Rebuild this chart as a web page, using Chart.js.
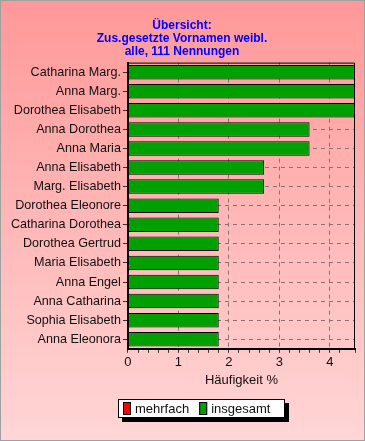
<!DOCTYPE html>
<html>
<head>
<meta charset="utf-8">
<script src="https://cdn.jsdelivr.net/npm/chart.js@4.4.8/dist/chart.umd.min.js"></script>
<style>
  html, body { margin: 0; padding: 0; background: #fff; }
  #wrap { width: 365px; height: 441px; }
</style>
</head>
<body>
<div id="wrap"><canvas id="myChart" width="365" height="441"></canvas></div>
<script>
  // Daten
  const names = ['Catharina Marg.', 'Anna Marg.', 'Dorothea Elisabeth', 'Anna Dorothea', 'Anna Maria',
    'Anna Elisabeth', 'Marg. Elisabeth', 'Dorothea Eleonore', 'Catharina Dorothea', 'Dorothea Gertrud',
    'Maria Elisabeth', 'Anna Engel', 'Anna Catharina', 'Sophia Elisabeth', 'Anna Eleonora'];
  const mehrfach = [0, 0, 0, 0, 0, 0, 0, 0, 0, 0, 0, 0, 0, 0, 0];
  const insgesamt = [4.5, 4.5, 4.5, 3.6, 3.6, 2.7, 2.7, 1.8, 1.8, 1.8, 1.8, 1.8, 1.8, 1.8, 1.8];
  const titleLines = ['Übersicht:', 'Zus.gesetzte Vornamen weibl.', 'alle, 111 Nennungen'];
  const xTitle = 'Häufigkeit %';

  const font = 'Liberation Sans, Arial, sans-serif';

  // Hintergrund mit Verlauf
  const bgPlugin = {
    id: 'bg',
    beforeDraw(chart) {
      const c = chart.ctx;
      const g = c.createLinearGradient(0, 0, 0, chart.height);
      g.addColorStop(0, '#ff9898');
      g.addColorStop(1, '#ffd6d6');
      c.save();
      c.fillStyle = g;
      c.fillRect(0, 0, chart.width, chart.height);
      c.strokeStyle = '#a0a0a0';
      c.lineWidth = 1;
      c.strokeRect(0.5, 0.5, chart.width - 1, chart.height - 1);
      c.restore();
    },
    afterDatasetsDraw(chart) {
      // duenner Rahmen oben/rechts
      const a = chart.chartArea;
      const c = chart.ctx;
      c.save();
      c.strokeStyle = '#000';
      c.lineWidth = 1;
      c.beginPath();
      c.moveTo(a.left, a.top + 0.5);
      c.lineTo(a.right - 0.5, a.top + 0.5);
      c.lineTo(a.right - 0.5, a.bottom);
      c.stroke();
      c.restore();
    }
  };

  // Legende im Kasten mit Schatten
  const legendPlugin = {
    id: 'boxLegend',
    afterDraw(chart) {
      const c = chart.ctx;
      const x = 118, y = 399, w = 167, h = 19;
      c.save();
      c.fillStyle = '#000';
      c.fillRect(x + 4, y + 4, w, h);
      c.fillStyle = '#fff';
      c.fillRect(x, y, w, h);
      c.strokeStyle = '#000';
      c.lineWidth = 1;
      c.strokeRect(x + 0.5, y + 0.5, w - 1, h - 1);
      let px = x + 5;
      c.font = '13px ' + font;
      c.textBaseline = 'middle';
      chart.data.datasets.forEach(ds => {
        c.fillStyle = ds.backgroundColor;
        c.fillRect(px, y + 3, 8, 13);
        c.strokeStyle = '#000';
        c.strokeRect(px + 0.5, y + 3.5, 7, 12);
        c.fillStyle = '#111';
        c.fillText(ds.label, px + 12, y + h / 2 + 1);
        px += 12 + c.measureText(ds.label).width + 10;
      });
      c.restore();
    }
  };

  const isInt = v => Math.abs(v - Math.round(v)) < 1e-6;

  const chart = new Chart(document.getElementById('myChart'), {
    type: 'bar',
    data: {
      labels: names,
      datasets: [
        {
          label: 'mehrfach',
          data: mehrfach,
          backgroundColor: '#ff0000',
          borderColor: '#000',
          borderWidth: 0,
          grouped: false
        },
        {
          label: 'insgesamt',
          data: insgesamt,
          backgroundColor: '#00a000',
          borderColor: '#000',
          borderWidth: 1,
          borderSkipped: false,
          grouped: false
        }
      ]
    },
    plugins: [bgPlugin, legendPlugin],
    options: {
      indexAxis: 'y',
      responsive: false,
      animation: false,
      devicePixelRatio: 1,
      layout: { padding: { left: 9, right: 10, top: 0, bottom: 53 } },
      datasets: { bar: { categoryPercentage: 1, barPercentage: 0.76 } },
      plugins: {
        legend: { display: false },
        tooltip: { enabled: false },
        title: {
          display: true,
          text: titleLines,
          color: '#0000ff',
          font: { family: font, size: 12, weight: 'bold', lineHeight: 1.1 },
          padding: { top: 19, bottom: 4 }
        }
      },
      scales: {
        x: {
          min: 0,
          max: 4.5,
          ticks: {
            stepSize: 0.2,
            autoSkip: false,
            maxRotation: 0,
            color: '#111',
            font: { family: font, size: 13 },
            padding: 2,
            callback: v => isInt(v) ? String(Math.round(v)) : ''
          },
          grid: {
            color: ctx => (ctx.tick && isInt(ctx.tick.value) && ctx.tick.value > 0 && ctx.tick.value < 4.5) ? '#8a7070' : 'rgba(0,0,0,0)',
            tickColor: '#333',
            tickLength: 4,
            drawOnChartArea: true
          },
          border: { color: '#000', width: 2, dash: [4, 4] },
          title: {
            display: true,
            text: xTitle,
            color: '#111',
            font: { family: font, size: 13 },
            padding: { top: 0, bottom: 0 }
          }
        },
        y: {
          ticks: {
            color: '#111',
            font: { family: font, size: 12.6 },
            padding: 2,
            autoSkip: false
          },
          grid: {
            offset: false,
            color: '#8a7070',
            tickColor: '#333',
            tickLength: 5
          },
          border: { color: '#000', width: 2, dash: [4, 4] }
        }
      }
    }
  });
</script>
</body>
</html>
